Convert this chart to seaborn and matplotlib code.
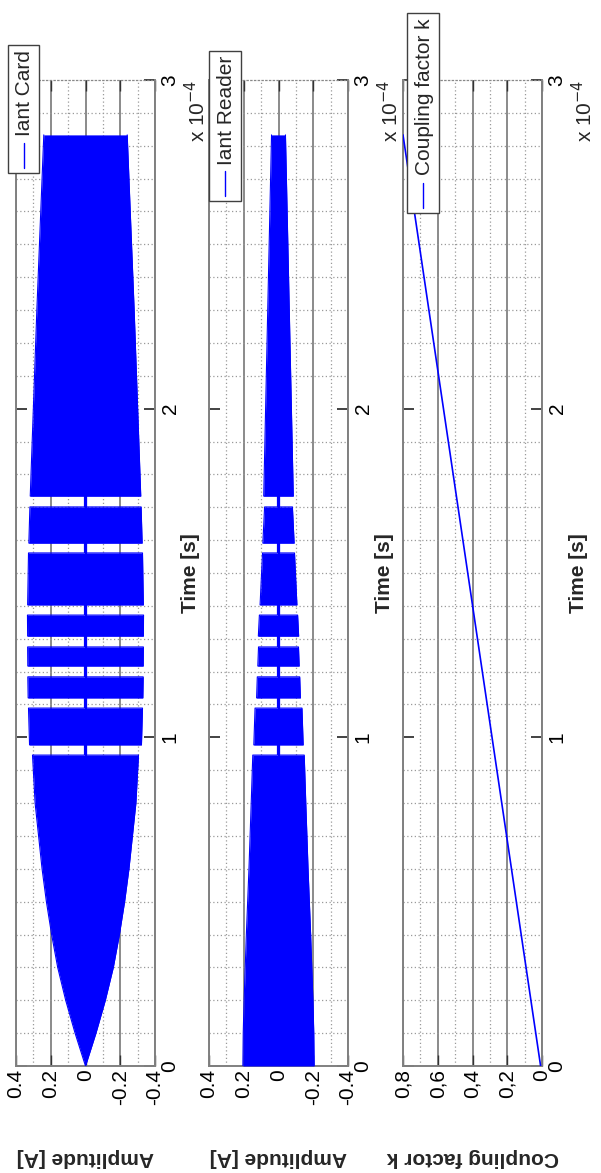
import numpy as np
import pandas as pd
import seaborn as sns
import matplotlib.pyplot as plt
from matplotlib.patches import Rectangle
from matplotlib.lines import Line2D
from matplotlib.ticker import MultipleLocator, FixedLocator

sns.set_theme(style='white')
plt.rcParams['font.family'] = ['Liberation Sans', 'DejaVu Sans']
plt.rcParams['axes.unicode_minus'] = False

# time in units of 1e-4 s, amplitude = envelope of the 13.56 MHz current
card_t = [0.0, 0.05, 0.1, 0.2, 0.3, 0.4, 0.5, 0.6, 0.7, 0.8, 0.946,
          0.946, 0.977, 0.977, 1.089, 1.089, 1.120, 1.120, 1.184,
          1.184, 1.217, 1.217, 1.275, 1.275, 1.308, 1.308, 1.372,
          1.372, 1.403, 1.403, 1.561, 1.561, 1.591, 1.591, 1.701,
          1.701, 1.734, 1.734, 2.3, 2.833]
card_amp = [0.0, 0.03, 0.06, 0.114, 0.16, 0.195, 0.225, 0.25, 0.27, 0.29, 0.305,
            0.006, 0.006, 0.322, 0.328, 0.006, 0.006, 0.330, 0.332,
            0.006, 0.006, 0.332, 0.333, 0.006, 0.006, 0.333, 0.334,
            0.006, 0.006, 0.333, 0.328, 0.006, 0.006, 0.326, 0.320,
            0.006, 0.006, 0.318, 0.28, 0.24]

reader_t = [0.0, 0.1, 0.2, 0.4, 0.6, 0.8, 0.946,
            0.946, 0.977, 0.977, 1.089, 1.089, 1.120, 1.120, 1.184,
            1.184, 1.217, 1.217, 1.275, 1.275, 1.308, 1.308, 1.372,
            1.372, 1.403, 1.403, 1.561, 1.561, 1.591, 1.591, 1.701,
            1.701, 1.734, 1.734, 2.3, 2.833]
reader_amp = [0.205, 0.203, 0.198, 0.185, 0.17, 0.157, 0.148,
              0.006, 0.006, 0.142, 0.135, 0.006, 0.006, 0.126, 0.122,
              0.006, 0.006, 0.119, 0.115, 0.006, 0.006, 0.116, 0.110,
              0.006, 0.006, 0.106, 0.092, 0.006, 0.006, 0.090, 0.080,
              0.006, 0.006, 0.085, 0.062, 0.040]

k_t = [0.0, 2.833]
k_val = [0.008, 0.8]

amp_ticks = [0.4, 0.2, 0, -0.2, -0.4]
amp_labels = ['0.4', '0.2', '0', '-0.2', '-0.4']
k_ticks = [0.8, 0.6, 0.4, 0.2, 0]
k_labels = ['0,8', '0,6', '0,4', '0,2', '0']
time_ticks = [0, 1, 2, 3]

W, H = 601, 1173
fig = plt.figure(figsize=(W / 100, H / 100), dpi=100)


def fx(x):
    return x / W


def fy(y):
    return 1 - y / H


# pixel layout of the rotated panels: left edge, legend box, legend text
panels = [
    dict(left=16, box=(8, 45, 39, 173), leg='Iant Card', ylab='Amplitude [A]'),
    dict(left=209, box=(209, 51, 241, 201), leg='Iant Reader', ylab='Amplitude [A]'),
    dict(left=403, box=(407, 13, 439, 213), leg='Coupling factor k', ylab='Coupling factor k'),
]
ax_w = 139
ax_top, ax_bot = 80, 1066

axes = []
for p in panels:
    ax = fig.add_axes([fx(p['left']), fy(ax_bot), ax_w / W, (ax_bot - ax_top) / H])
    axes.append(ax)

# panel 1 and 2: filled envelopes
for ax, t, a in [(axes[0], card_t, card_amp), (axes[1], reader_t, reader_amp)]:
    df = pd.DataFrame({'t': t, 'up': a, 'lo': [-v for v in a]})
    ax.fill_betweenx(df['t'], df['lo'], df['up'], color='#0000ff', lw=0, zorder=3)
    sns.lineplot(data=df, x='up', y='t', orient='y', sort=False, estimator=None,
                 color='#0000ff', lw=0.8, ax=ax, zorder=3)
    sns.lineplot(data=df, x='lo', y='t', orient='y', sort=False, estimator=None,
                 color='#0000ff', lw=0.8, ax=ax, zorder=3)
    ax.set_xlim(0.4, -0.4)
    ax.xaxis.set_major_locator(FixedLocator(amp_ticks))
    ax.set_xticklabels(amp_labels)

# panel 3: coupling factor
kdf = pd.DataFrame({'k': k_val, 't': k_t})
sns.lineplot(data=kdf, x='k', y='t', orient='y', sort=False, estimator=None,
             color='#0000ff', lw=1.2, ax=axes[2], zorder=3)
axes[2].set_xlim(0.8, 0)
axes[2].xaxis.set_major_locator(FixedLocator(k_ticks))
axes[2].set_xticklabels(k_labels)

for ax, p in zip(axes, panels):
    ax.set_ylim(0, 3)
    ax.set_xlabel('')
    ax.set_ylabel('')
    ax.yaxis.set_major_locator(FixedLocator(time_ticks))
    ax.xaxis.set_minor_locator(MultipleLocator(0.1))
    ax.yaxis.set_minor_locator(MultipleLocator(0.1))
    ax.set_axisbelow(True)
    ax.grid(which='major', axis='x', color='#8a8a8a', ls='-', lw=1.4)
    ax.grid(which='major', axis='y', visible=False)
    ax.grid(which='minor', axis='both', color='#9a9a9a', ls=(0, (1, 2)), lw=0.9)
    ax.tick_params(which='minor', length=0)
    ax.tick_params(axis='x', which='major', direction='in', length=8, width=1,
                   color='#333333', top=True, bottom=True, labelrotation=90,
                   labelsize=15, pad=2, labelcolor='black')
    ax.tick_params(axis='y', which='major', direction='in', length=8, width=1.2,
                   color='#222222', left=True, right=True, labelleft=False,
                   labelright=True, labelrotation=90, labelsize=15, pad=4,
                   labelcolor='black')
    ax.set_yticklabels([str(v) for v in time_ticks])
    for lbl in ax.get_yticklabels():
        lbl.set_va('center')
    for side in ['left', 'right', 'bottom']:
        ax.spines[side].set_color('#808080')
        ax.spines[side].set_linewidth(1.4)
    ax.spines['top'].set_color('#888888')
    ax.spines['top'].set_linestyle((0, (1, 2)))
    ax.spines['top'].set_linewidth(0.9)

    right = p['left'] + ax_w
    mid = p['left'] + ax_w / 2
    # exponent of the time axis
    fig.text(fx(right + 42), fy(ax_top), r'x 10$^{-4}$', rotation=90,
             ha='center', va='top', fontsize=15)
    fig.text(fx(right + 36), fy((ax_top + ax_bot) / 2), 'Time [s]', rotation=90,
             ha='center', va='center', fontsize=15, fontweight='bold')
    fig.text(fx(mid), fy(1157), p['ylab'], rotation=180, ha='center', va='center',
             fontsize=15, fontweight='bold')

    # legend drawn by hand, it is rotated with the plot
    x0, y0, x1, y1 = p['box']
    fig.add_artist(Rectangle((fx(x0), fy(y1)), (x1 - x0) / W, (y1 - y0) / H,
                             transform=fig.transFigure, facecolor='white',
                             edgecolor='#404040', lw=1, zorder=5))
    cx = (x0 + x1) / 2
    fig.add_artist(Line2D([fx(cx), fx(cx)], [fy(y1 - 5), fy(y1 - 30)],
                          transform=fig.transFigure, color='#0000ff', lw=1, zorder=6))
    fig.text(fx(cx + 1), fy(y0 + 5), p['leg'], rotation=90, ha='center', va='top',
             fontsize=15, zorder=7)

fig.savefig('out.png', dpi=100)
